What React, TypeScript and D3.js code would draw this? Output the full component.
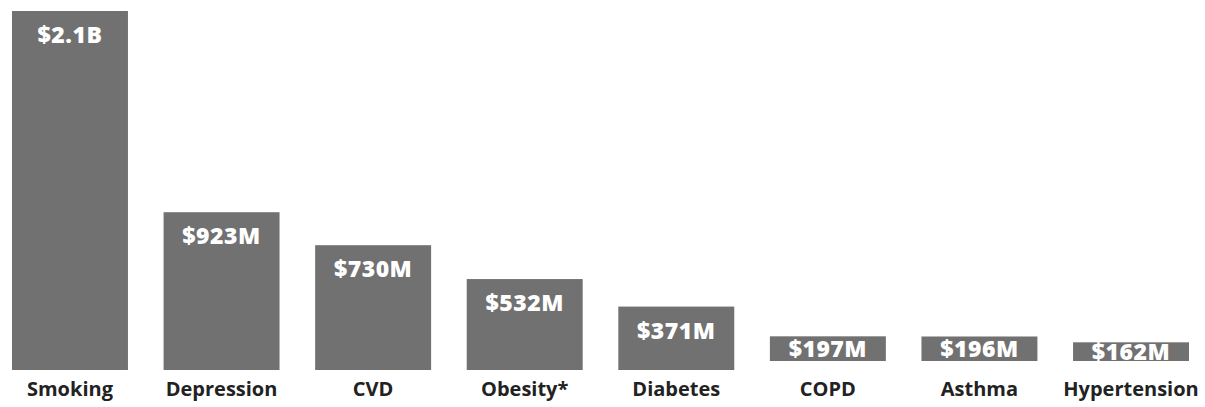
import React from "react";
import * as d3 from "d3";

const categories = ["Smoking", "Depression", "CVD", "Obesity*", "Diabetes", "COPD", "Asthma", "Hypertension"];
const values = [2100, 923, 730, 532, 371, 197, 196, 162];
const valueLabels = ["$2.1B", "$923M", "$730M", "$532M", "$371M", "$197M", "$196M", "$162M"];

const W = 1205;
const H = 407;

export default function App() {
  const x = d3.scaleBand<string>().domain(categories).range([12, 1189]).paddingInner(0.235).paddingOuter(0);
  const y = d3.scaleLinear().domain([0, 2100]).range([370, 11]);
  const bw = x.bandwidth();
  return (
    <svg width={W} height={H} style={{ position: "absolute", left: 0, top: 0, background: "#fff" }}>
      {categories.map((c, i) => {
        const top = y(values[i]);
        const h0 = y(0) - top;
        const bottom = h0 < 40 ? y(0) - 9 : y(0);
        const x0 = x(c) as number;
        const cx = x0 + bw / 2;
        const labelY = Math.min(top + 32, (top + bottom) / 2 + 8);
        return (
          <g key={c}>
            <rect x={x0} y={top} width={bw} height={bottom - top} fill="#717171" />
            <text x={cx} y={labelY} textAnchor="middle" fill="#fff"
              style={{ fontFamily: "'Open Sans'", fontWeight: 800, fontSize: 23, letterSpacing: 0.5 }}>
              {valueLabels[i]}
            </text>
            <text x={cx} y={396} textAnchor="middle" fill="#222"
              style={{ fontFamily: "'Open Sans'", fontWeight: 700, fontSize: 20 }}>
              {c}
            </text>
          </g>
        );
      })}
    </svg>
  );
}
